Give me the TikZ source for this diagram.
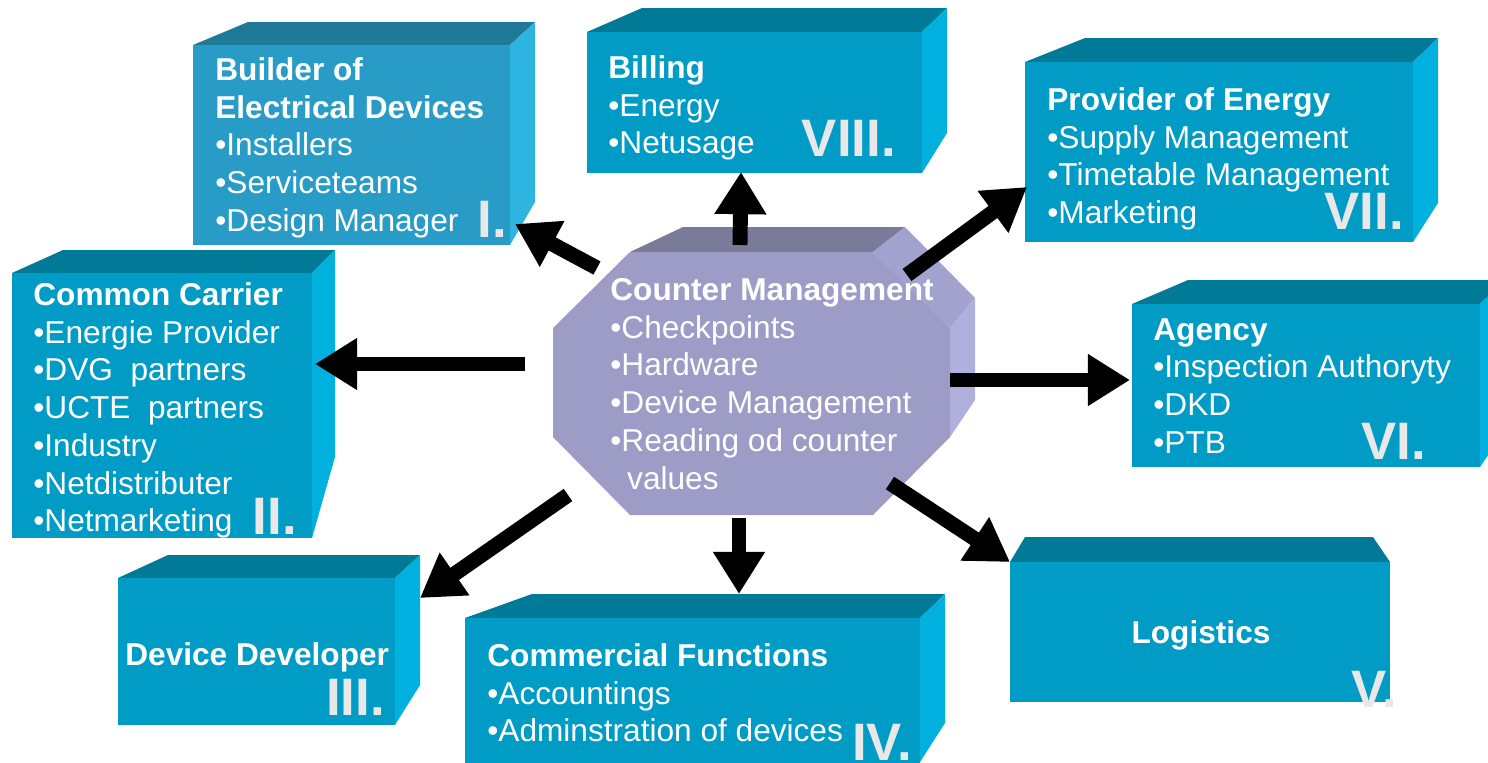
\documentclass[tikz,border=0pt]{standalone}
\usepackage{fontspec}
\setmainfont{Liberation Sans}
\usetikzlibrary{arrows.meta}
\definecolor{boxfront}{RGB}{0,156,198}
\definecolor{boxtop}{RGB}{0,122,150}
\definecolor{boxside}{RGB}{0,176,222}
\definecolor{lightfront}{RGB}{40,156,198}
\definecolor{lighttop}{RGB}{30,122,152}
\definecolor{lightside}{RGB}{46,180,224}
\definecolor{cmfront}{RGB}{156,156,198}
\definecolor{cmtop}{RGB}{122,122,153}
\definecolor{cmedge}{RGB}{162,162,206}
\definecolor{cmside}{RGB}{176,176,222}
\definecolor{numgray}{RGB}{232,232,232}
\begin{document}
\begin{tikzpicture}[x=0.02cm,y=-0.02cm,
    boxtext/.style={anchor=north west,inner sep=0pt,text=white,align=left,font=\fontsize{18}{21.5}\selectfont},
    numeral/.style={anchor=south east,inner sep=0pt,text=numgray,font=\fontsize{30}{30}\selectfont\bfseries},
    bigarrow/.style={line width=8.5pt,-{Triangle[length=24pt,width=28pt]}}]
  \clip (0,0) rectangle (1488,762);
  % boxes
  \fill[lighttop] (193,45) -- (248,22) -- (535,22) -- (510,45) -- cycle;
  \fill[lightside] (510,45) -- (535,22) -- (535,202) -- (510,245) -- cycle;
  \fill[lightfront] (193,45) rectangle (510,245);
  \fill[boxtop] (587,32) -- (642,8) -- (947,8) -- (922,32) -- cycle;
  \fill[boxside] (922,32) -- (947,8) -- (947,133) -- (922,173) -- cycle;
  \fill[boxfront] (587,32) rectangle (922,173);
  \fill[boxtop] (1025,62) -- (1085,38) -- (1438,38) -- (1413,62) -- cycle;
  \fill[boxside] (1413,62) -- (1438,38) -- (1438,203) -- (1413,242) -- cycle;
  \fill[boxfront] (1025,62) rectangle (1413,242);
  \fill[boxtop] (12,273) -- (63,250) -- (335,250) -- (312,273) -- cycle;
  \fill[boxside] (312,273) -- (335,250) -- (335,457) -- (312,538) -- cycle;
  \fill[boxfront] (12,273) rectangle (312,538);
  \fill[boxtop] (1132,304) -- (1188,280) -- (1505,280) -- (1480,304) -- cycle;
  \fill[boxside] (1480,304) -- (1505,280) -- (1505,430) -- (1480,467) -- cycle;
  \fill[boxfront] (1132,304) rectangle (1480,467);
  \fill[boxtop] (118,578) -- (168,555) -- (420,555) -- (395,578) -- cycle;
  \fill[boxside] (395,578) -- (420,555) -- (420,685) -- (395,725) -- cycle;
  \fill[boxfront] (118,578) rectangle (395,725);
  \fill[boxtop] (465,618) -- (532,594) -- (945,594) -- (920,618) -- cycle;
  \fill[boxside] (920,618) -- (945,594) -- (945,723) -- (920,762) -- cycle;
  \fill[boxfront] (465,618) rectangle (920,770);
  \fill[boxtop] (1010,562) -- (1025,537) -- (1373,537) -- (1390,562) -- cycle;
  \fill[boxfront] (1010,562) rectangle (1390,702);
  % center
  \fill[cmtop] (630,252) -- (683,227) -- (905,227) -- (873,252) -- cycle;
  \fill[cmedge] (873,252) -- (905,227) -- (975,298) -- (950,328) -- cycle;
  \fill[cmside] (950,328) -- (975,298) -- (975,400) -- (950,437) -- cycle;
  \fill[cmfront] (630,252) -- (873,252) -- (950,328) -- (950,437) -- (873,515)
    -- (630,515) -- (553,437) -- (553,328) -- cycle;
  % texts
  \node[boxtext] (builder) at (215,57) {\textbf{Builder of}\\\textbf{Electrical Devices}\\•Installers\\•Serviceteams\\•Design Manager};
  \node[numeral] (numI) at (507,238) {I.};
  \node[boxtext] (carrier) at (33,282) {\textbf{Common Carrier}\\•Energie Provider\\•DVG\ \ partners\\•UCTE\ \ partners\\•Industry\\•Netdistributer\\•Netmarketing};
  \node[numeral] (numII) at (297,535) {II.};
  \node[boxtext] (developer) at (125,642) {\textbf{Device Developer}};
  \node[numeral] (numIII) at (385,716) {III.};
  \node[boxtext] (commercial) at (487,643) {\textbf{Commercial Functions}\\•Accountings\\•Adminstration of devices};
  \node[numeral] (numIV) at (912,761) {IV.};
  \node[boxtext,anchor=base] (logistics) at (1201,643) {\textbf{Logistics}};
  \node[numeral] (numV) at (1397,708) {V.};
  \node[boxtext] (agency) at (1153,318) {\textbf{Agency}\\•Inspection Authoryty\\•DKD\\•PTB};
  \node[numeral] (numVI) at (1426,460) {VI.};
  \node[boxtext] (provider) at (1047,87) {\textbf{Provider of Energy}\\•Supply Management\\•Timetable Management\\•Marketing};
  \node[numeral] (numVII) at (1404,230) {VII.};
  \node[boxtext] (billing) at (608,55) {\textbf{Billing}\\•Energy\\•Netusage};
  \node[numeral] (numVIII) at (896,157) {VIII.};
  \node[boxtext] (counter) at (610,278) {\textbf{Counter Management}\\•Checkpoints\\•Hardware\\•Device Management\\•Reading od counter\\\hspace*{9.6pt}values};
  % arrows
  \coordinate (fromI) at (597,268);    \coordinate (toI) at (515,224);
  \coordinate (fromII) at (525,364);   \coordinate (toII) at (315,364);
  \coordinate (fromIII) at (568,495);  \coordinate (toIII) at (420,598);
  \coordinate (fromIV) at (739,518);   \coordinate (toIV) at (739,594);
  \coordinate (fromV) at (890,483);    \coordinate (toV) at (1010,562);
  \coordinate (fromVI) at (950,380);   \coordinate (toVI) at (1130,380);
  \coordinate (fromVII) at (907,275);  \coordinate (toVII) at (1027,187);
  \coordinate (fromVIII) at (740,245); \coordinate (toVIII) at (741,172);
  \foreach \n in {I,II,III,IV,V,VI,VII,VIII}
    \draw[bigarrow] (from\n) -- (to\n);
\end{tikzpicture}
\end{document}
